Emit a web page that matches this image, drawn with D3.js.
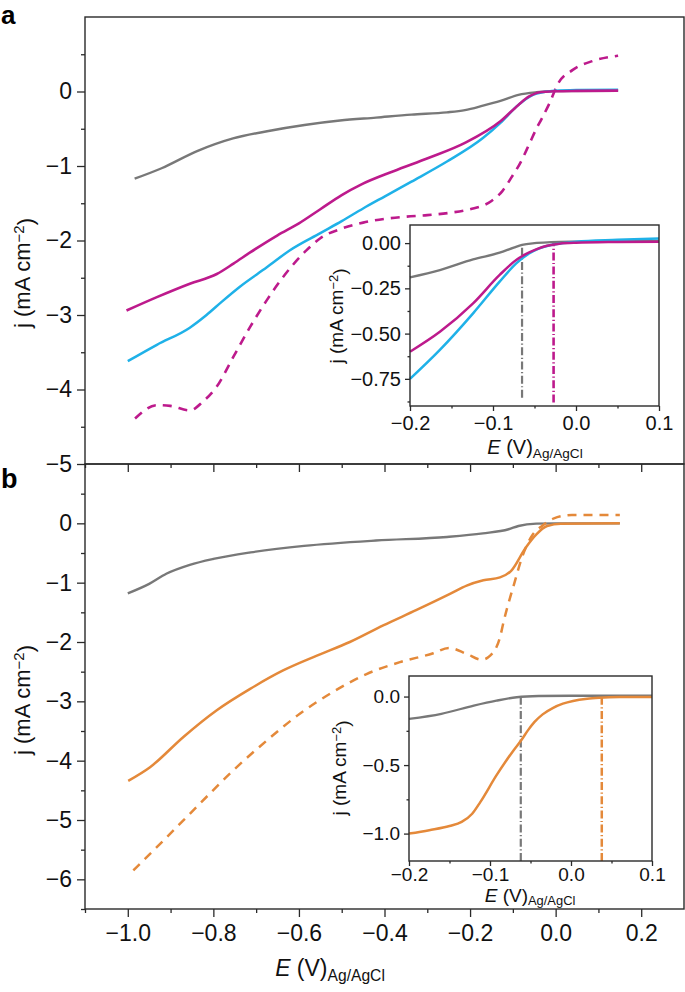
<!DOCTYPE html>
<html><head><meta charset="utf-8">
<script src="https://cdn.jsdelivr.net/npm/d3@7"></script>
<style>body{margin:0;background:#fff}</style>
</head><body>
<svg id="c" width="685" height="992" xmlns="http://www.w3.org/2000/svg"></svg>
<script>
// ---------------- DATA ([E (V), j (mA cm-2)]) ----------------
// Panel a (main)
const aGray = [[-0.984,-1.17],[-0.921,-1.03],[-0.838,-0.80],[-0.754,-0.63],[-0.671,-0.53],[-0.587,-0.45],[-0.504,-0.39],[-0.42,-0.35],[-0.337,-0.31],[-0.254,-0.28],[-0.212,-0.25],[-0.17,-0.19],[-0.129,-0.125],[-0.087,-0.045],[-0.045,-0.01],[0,0.005],[0.146,0.01]];
const aMagenta = [[-1.003,-2.94],[-0.932,-2.76],[-0.855,-2.58],[-0.792,-2.45],[-0.753,-2.31],[-0.714,-2.16],[-0.65,-1.93],[-0.6,-1.77],[-0.55,-1.58],[-0.5,-1.39],[-0.455,-1.25],[-0.379,-1.07],[-0.296,-0.89],[-0.212,-0.69],[-0.129,-0.40],[-0.087,-0.18],[-0.062,-0.067],[-0.037,-0.01],[0,0.003],[0.05,0.008],[0.146,0.012]];
const aCyan = [[-1.0,-3.62],[-0.932,-3.40],[-0.855,-3.17],[-0.816,-3.0],[-0.78,-2.82],[-0.738,-2.62],[-0.675,-2.36],[-0.621,-2.13],[-0.55,-1.9],[-0.5,-1.74],[-0.45,-1.57],[-0.4,-1.41],[-0.337,-1.21],[-0.254,-0.94],[-0.17,-0.625],[-0.129,-0.42],[-0.087,-0.18],[-0.053,-0.045],[-0.03,-0.01],[0,0.01],[0.05,0.02],[0.146,0.025]];
const aMagentaDash = [[-0.983,-4.39],[-0.932,-4.21],[-0.901,-4.22],[-0.855,-4.28],[-0.824,-4.16],[-0.792,-3.96],[-0.753,-3.56],[-0.714,-3.16],[-0.675,-2.80],[-0.637,-2.49],[-0.582,-2.13],[-0.55,-1.97],[-0.5,-1.84],[-0.45,-1.76],[-0.4,-1.71],[-0.35,-1.68],[-0.3,-1.66],[-0.25,-1.63],[-0.2,-1.58],[-0.15,-1.47],[-0.125,-1.34],[-0.104,-1.16],[-0.08,-0.93],[-0.062,-0.71],[-0.045,-0.5],[-0.033,-0.37],[-0.013,-0.14],[0.005,0.1],[0.04,0.29],[0.087,0.41],[0.146,0.48]];
// Panel a inset
const aInGray = [[-0.2,-0.189],[-0.164,-0.149],[-0.124,-0.09],[-0.092,-0.053],[-0.075,-0.025],[-0.065,-0.01],[-0.05,0.0],[-0.03,0.005],[0,0.008],[0.05,0.01],[0.1,0.012]];
const aInMagenta = [[-0.2,-0.60],[-0.164,-0.49],[-0.124,-0.333],[-0.092,-0.176],[-0.072,-0.093],[-0.06,-0.06],[-0.048,-0.035],[-0.035,-0.015],[-0.02,-0.003],[0,0.002],[0.05,0.006],[0.1,0.008]];
const aInCyan = [[-0.2,-0.75],[-0.164,-0.59],[-0.124,-0.388],[-0.092,-0.213],[-0.072,-0.112],[-0.056,-0.056],[-0.045,-0.03],[-0.03,-0.01],[-0.015,0.0],[0,0.008],[0.05,0.018],[0.1,0.026]];
const aInOnsetGray = [[-0.065,-0.855],[-0.065,-0.005]];
const aInOnsetMagenta = [[-0.027,-0.88],[-0.027,0.0]];
// Panel b (main)
const bGray = [[-1.0,-1.18],[-0.95,-1.02],[-0.91,-0.85],[-0.855,-0.70],[-0.8,-0.6],[-0.713,-0.49],[-0.588,-0.38],[-0.42,-0.29],[-0.254,-0.23],[-0.17,-0.17],[-0.11,-0.10],[-0.087,-0.045],[-0.045,-0.005],[0,0.0],[0.15,0.0]];
const bOrange = [[-0.999,-4.34],[-0.948,-4.11],[-0.870,-3.60],[-0.792,-3.15],[-0.714,-2.79],[-0.637,-2.48],[-0.558,-2.23],[-0.481,-2.0],[-0.403,-1.72],[-0.325,-1.46],[-0.247,-1.19],[-0.208,-1.05],[-0.169,-0.96],[-0.13,-0.91],[-0.104,-0.80],[-0.07,-0.41],[-0.045,-0.185],[-0.02,-0.045],[0.012,-0.005],[0.15,0.0]];
const bOrangeDash = [[-0.987,-5.85],[-0.909,-5.29],[-0.831,-4.72],[-0.753,-4.16],[-0.675,-3.66],[-0.598,-3.21],[-0.520,-2.84],[-0.442,-2.54],[-0.364,-2.34],[-0.286,-2.19],[-0.25,-2.1],[-0.208,-2.2],[-0.173,-2.30],[-0.153,-2.23],[-0.13,-1.92],[-0.121,-1.64],[-0.095,-0.97],[-0.079,-0.58],[-0.053,-0.185],[-0.032,-0.045],[-0.004,0.084],[0.038,0.14],[0.15,0.14]];
// Panel b inset
const bInGray = [[-0.2,-0.163],[-0.16,-0.126],[-0.12,-0.066],[-0.092,-0.03],[-0.067,-0.005],[-0.04,0.004],[0,0.006],[0.05,0.006],[0.1,0.006]];
const bInOrange = [[-0.2,-1.0],[-0.175,-0.975],[-0.15,-0.945],[-0.135,-0.915],[-0.122,-0.855],[-0.112,-0.77],[-0.0915,-0.57],[-0.071,-0.393],[-0.061,-0.315],[-0.053,-0.245],[-0.045,-0.185],[-0.035,-0.13],[-0.022,-0.082],[-0.01,-0.052],[0.0025,-0.032],[0.02,-0.016],[0.035,-0.009],[0.06,-0.004],[0.1,-0.003]];
const bInOnsetGray = [[-0.062,-1.2],[-0.062,0.0]];
const bInOnsetOrange = [[0.038,-1.2],[0.038,-0.01]];

// Ticks
const mainXTicks = [-1.0,-0.8,-0.6,-0.4,-0.2,0.0,0.2];
const mainXMinor = [-1.1,-0.9,-0.7,-0.5,-0.3,-0.1,0.1];
const aYTicks = [-5,-4,-3,-2,-1,0];
const aYMinor = [-4.5,-3.5,-2.5,-1.5,-0.5,0.5];
const bYTicks = [-6,-5,-4,-3,-2,-1,0];
const bYMinor = [-6.5,-5.5,-4.5,-3.5,-2.5,-1.5,-0.5,0.5];
const inXTicks = [-0.2,-0.1,0.0,0.1];
const inXMinor = [-0.15,-0.05,0.05];
const aInYTicks = [0,-0.25,-0.5,-0.75];
const aInYMinor = [-0.125,-0.375,-0.625,-0.875];
const bInYTicks = [0,-0.5,-1.0];
const bInYMinor = [-0.25,-0.75];

// ---------------- DRAWING ----------------
const FONT = "'Liberation Sans', Arial, Helvetica, sans-serif";
const GRAY = "#787878", MAG = "#bd1a8c", CYAN = "#1fb1e8", ORANGE = "#e4893a", AX = "#2a2a2a";
const svg = d3.select("#c").style("font-family", FONT);

const x = d3.scaleLinear().domain([-1.1, 0.3]).range([85, 684]);
const yA = d3.scaleLinear().domain([-5, 1]).range([464, 17]);
const yB = d3.scaleLinear().domain([-6.5, 1]).range([909, 464]);
const xInA = d3.scaleLinear().domain([-0.2, 0.1]).range([410, 659]);
const yInA = d3.scaleLinear().domain([-0.9, 0.1]).range([406, 225]);
const xInB = d3.scaleLinear().domain([-0.2, 0.1]).range([409, 652]);
const yInB = d3.scaleLinear().domain([-1.2, 0.15]).range([861, 676]);

const fmtInt = v => d3.format("d")(v);
const fmt1 = d3.format(".1f");
const fmt2 = d3.format(".2f");

function styleAxis(g, fs) {
  g.select(".domain").remove();
  g.selectAll(".tick line").attr("stroke", AX).attr("stroke-width", 1.3);
  g.selectAll(".tick text").attr("fill", "#111").style("font-size", fs + "px").style("font-family", FONT);
}
function leftAxis(scale, xpos, majors, minors, fmt, fs, len, pad) {
  const g = svg.append("g").attr("transform", `translate(${xpos},0)`)
    .call(d3.axisLeft(scale).tickValues(majors).tickFormat(fmt).tickSize(len).tickSizeOuter(0).tickPadding(pad));
  styleAxis(g, fs);
  const g2 = svg.append("g").attr("transform", `translate(${xpos},0)`)
    .call(d3.axisLeft(scale).tickValues(minors).tickFormat("").tickSize(len / 2).tickSizeOuter(0));
  styleAxis(g2, fs);
}
function bottomAxis(scale, ypos, majors, minors, fmt, fs, len, pad) {
  const g = svg.append("g").attr("transform", `translate(0,${ypos})`)
    .call(d3.axisBottom(scale).tickValues(majors).tickFormat(fmt).tickSize(len).tickSizeOuter(0).tickPadding(pad));
  styleAxis(g, fs);
  const g2 = svg.append("g").attr("transform", `translate(0,${ypos})`)
    .call(d3.axisBottom(scale).tickValues(minors).tickFormat("").tickSize(len / 2).tickSizeOuter(0));
  styleAxis(g2, fs);
}
function frame(xs, ys, w) {
  const [x0, x1] = xs.range(), [y0, y1] = ys.range();
  svg.append("rect").attr("x", x0).attr("y", y1).attr("width", x1 - x0).attr("height", y0 - y1)
    .attr("fill", "none").attr("stroke", AX).attr("stroke-width", w);
}
function curve(data, xs, ys, color, width, dash) {
  const line = d3.line().x(d => xs(d[0])).y(d => ys(d[1])).curve(d3.curveMonotoneX);
  const p = svg.append("path").datum(data).attr("d", line).attr("fill", "none")
    .attr("stroke", color).attr("stroke-width", width).attr("stroke-linecap", "butt").attr("stroke-linejoin", "round");
  if (dash) p.attr("stroke-dasharray", dash);
}
function vline(data, xs, ys, color, width, dash) {
  const line = d3.line().x(d => xs(d[0])).y(d => ys(d[1]));
  svg.append("path").datum(data).attr("d", line).attr("fill", "none")
    .attr("stroke", color).attr("stroke-width", width).attr("stroke-dasharray", dash);
}
function yTitle(cx, cy, fs) {
  const t = svg.append("text").attr("transform", `translate(${cx},${cy}) rotate(-90)`)
    .attr("text-anchor", "middle").style("font-size", fs + "px").attr("fill", "#111");
  t.append("tspan").text("j (mA cm");
  t.append("tspan").attr("dy", "-0.42em").style("font-size", (fs * 0.68) + "px").text("\u22122");
  t.append("tspan").attr("dy", "0.42em").text(")");
}
function xTitle(cx, cy, fs, subDy) {
  const t = svg.append("text").attr("x", cx).attr("y", cy)
    .attr("text-anchor", "middle").style("font-size", fs + "px").attr("fill", "#111");
  t.append("tspan").style("font-style", "italic").text("E");
  t.append("tspan").text(" (V)");
  t.append("tspan").attr("dy", subDy).style("font-size", (fs * 0.68) + "px").text("Ag/AgCl");
}

// ---- Panel a main ----
curve(aGray, x, yA, GRAY, 2.4);
curve(aMagentaDash, x, yA, MAG, 2.6, "9,7");
curve(aCyan, x, yA, CYAN, 2.5);
curve(aMagenta, x, yA, MAG, 2.6);
frame(x, yA, 1.4);
leftAxis(yA, 85, aYTicks, aYMinor, fmtInt, 23, 8, 5);
bottomAxis(x, 464, mainXTicks, mainXMinor, () => "", 23, 8, 6);
yTitle(30, 273, 22);

// ---- Panel b main ----
curve(bGray, x, yB, GRAY, 2.4);
curve(bOrangeDash, x, yB, ORANGE, 2.5, "9,7");
curve(bOrange, x, yB, ORANGE, 2.5);
frame(x, yB, 1.4);
leftAxis(yB, 85, bYTicks, bYMinor, fmtInt, 23, 8, 5);
bottomAxis(x, 909, mainXTicks, mainXMinor, fmt1, 23, 8, 8);
yTitle(30, 700, 22);
xTitle(330, 976, 23, "0.3em");

// ---- Inset a ----
svg.append("rect").attr("x", 410).attr("y", 225).attr("width", 249).attr("height", 181).attr("fill", "#fff");
curve(aInGray, xInA, yInA, GRAY, 2.3);
vline(aInOnsetGray, xInA, yInA, GRAY, 2.2, "8,2.5,1.2,2.5");
vline(aInOnsetMagenta, xInA, yInA, MAG, 2.6, "8,2.5,1.2,2.5");
curve(aInCyan, xInA, yInA, CYAN, 2.5);
curve(aInMagenta, xInA, yInA, MAG, 2.5);
frame(xInA, yInA, 1.4);
leftAxis(yInA, 410, aInYTicks, aInYMinor, fmt2, 20, 5, 4);
bottomAxis(xInA, 406, inXTicks, inXMinor, fmt1, 20, 5, 5);
yTitle(343, 316, 19);
xTitle(535, 454, 20, "0.3em");

// ---- Inset b ----
svg.append("rect").attr("x", 409).attr("y", 676).attr("width", 243).attr("height", 185).attr("fill", "#fff");
curve(bInGray, xInB, yInB, GRAY, 2.3);
vline(bInOnsetGray, xInB, yInB, GRAY, 2.2, "8,2.5,1.2,2.5");
vline(bInOnsetOrange, xInB, yInB, ORANGE, 2.5, "8,2.5,1.2,2.5");
curve(bInOrange, xInB, yInB, ORANGE, 2.5);
frame(xInB, yInB, 1.4);
leftAxis(yInB, 409, bInYTicks, bInYMinor, fmt1, 19, 5, 4);
bottomAxis(xInB, 861, inXTicks, inXMinor, fmt1, 19, 5, 2);
yTitle(346, 768, 19);
xTitle(530, 902, 19, "0.22em");

// ---- Panel letters ----
svg.append("text").attr("x", 1).attr("y", 24).style("font-size", "26px").style("font-weight", "bold").attr("fill", "#000").text("a");
svg.append("text").attr("x", 1).attr("y", 488).style("font-size", "27px").style("font-weight", "bold").attr("fill", "#000").text("b");
</script>
</body></html>
